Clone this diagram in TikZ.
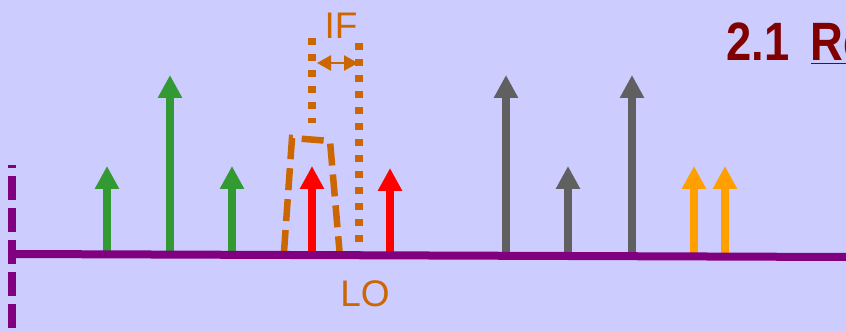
\documentclass[tikz,border=0pt]{standalone}
\usepackage{fontspec}
\setmainfont{Liberation Sans}
\usepackage{graphicx}
\usepackage{tikz}
\usetikzlibrary{arrows.meta}
\definecolor{SpecBg}{RGB}{204,204,255}
\definecolor{AxisPurple}{RGB}{128,0,128}
\definecolor{ToneGreen}{RGB}{51,153,51}
\definecolor{ToneRed}{RGB}{255,0,0}
\definecolor{ToneGray}{RGB}{96,96,96}
\definecolor{ToneOrange}{RGB}{255,160,0}
\definecolor{FiltOrange}{RGB}{204,102,0}
\definecolor{TitleRed}{RGB}{128,0,0}
\tikzset{
    tone/.style={line width=7.5pt, -{Triangle[length=23pt, width=23pt]}},
    axis/.style={draw=AxisPurple, line width=8pt},
    filt/.style={draw=FiltOrange, line width=6.5pt, dash pattern=on 22pt off 9pt},
    ifdots/.style={draw=FiltOrange, line width=7.5pt, dash pattern=on 7.5pt off 8.5pt},
    lbl/.style={text=FiltOrange, font=\fontsize{37}{40}\selectfont, inner sep=0pt}
}
\begin{document}
\begin{tikzpicture}[x=1pt, y=-1pt]
    \clip (0,0) rectangle (846,331);
    \fill[SpecBg] (0,0) rectangle (846,331);

    % spectral lines: x / top / colour
    \foreach \x/\top/\col [count=\i] in {107/166/ToneGreen, 170/75/ToneGreen, 232/166/ToneGreen,
            312/166/ToneRed, 390/168/ToneRed,
            506/75/ToneGray, 568/166/ToneGray, 632/75/ToneGray,
            694/166/ToneOrange, 725/166/ToneOrange} {
        \coordinate (b\i) at (\x,255);
        \coordinate (t\i) at (\x,\top);
        \draw[tone, \col] (b\i) -- (t\i);
    }

    % IF filter window
    \coordinate (f1) at (284,252);
    \coordinate (f2) at (292,138);
    \coordinate (f3) at (330,141);
    \coordinate (f4) at (340,257);
    \draw[filt] (f1) -- (f2) -- (f3) -- (f4);

    % LO markers and IF spacing
    \coordinate (d1a) at (312,38);
    \coordinate (d1b) at (312,123);
    \coordinate (d2a) at (359,43);
    \coordinate (d2b) at (359,258);
    \draw[ifdots] (d1a) -- (d1b);
    \draw[ifdots] (d2a) -- (d2b);
    \coordinate (ifl) at (317,63);
    \coordinate (ifr) at (358,63);
    \draw[FiltOrange, line width=2.5pt, {Triangle[length=14pt, width=15pt]}-{Triangle[length=14pt, width=15pt]}] (ifl) -- (ifr);

    % frequency axis
    \coordinate (ax0) at (12,254);
    \coordinate (ax1) at (846,257);
    \coordinate (v0) at (12,165);
    \coordinate (v1) at (12,331);
    \draw[axis] (ax0) -- (ax1);
    \draw[axis, dash pattern=on 24pt off 8pt, dash phase=21pt] (v0) -- (v1);

    \node[lbl] (iflbl) at (341,26) {IF};
    \node[lbl] (lolbl) at (365,294) {LO};
    \node[text=TitleRed, font=\fontsize{54}{60}\selectfont\bfseries, inner sep=0pt, anchor=base west] (sec) at (726,61)
        {\scalebox{0.84}[1]{2.1\hspace{0.48em}\underline{Re}}};
\end{tikzpicture}
\end{document}
